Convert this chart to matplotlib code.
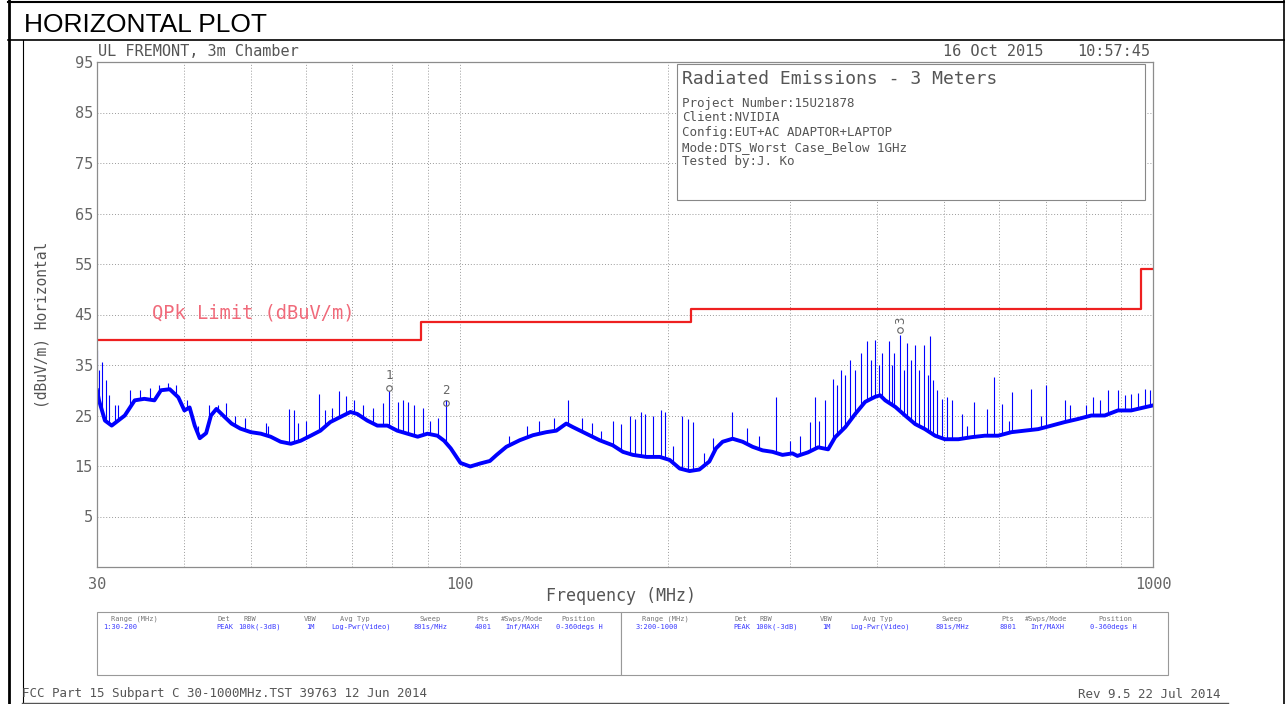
import numpy as np
import matplotlib
matplotlib.use('Agg')
import matplotlib.pyplot as plt  # noqa
import matplotlib.ticker
from matplotlib.lines import Line2D
from matplotlib.patches import Rectangle

W, H = 1285, 704

MONO = 'DejaVu Sans Mono'
COLOR_TXT = '#555555'
COLOR_GRID = '#9a9a9a'
COLOR_TRACE = '#0000ff'
COLOR_LIMIT = '#ee2020'

# measured trace (centre of the noise band), MHz / dBuV/m
trace_freq = [30.0, 30.2, 30.8, 31.5, 32.9, 34.0, 35.1, 36.3, 37.1, 38.2, 39.3,
              40.1, 40.8, 41.5, 42.2, 43.1, 43.8, 44.6, 45.6, 46.9, 48.3, 50.0,
              51.7, 53.4, 55.2, 57.1, 59.0, 61.0, 63.0, 65.1, 67.3, 69.6, 71.2,
              73.6, 76.1, 78.7, 81.3, 84.1, 87.0, 89.9, 92.9, 95.0, 97.1, 99.3,
              100.3, 103.6, 107.1, 110.6, 113.1, 116.8, 122.1, 127.6, 133.4,
              137.9, 142.5, 145.7, 152.3, 159.2, 166.3, 172.0, 177.8, 186.0,
              194.4, 200.9, 207.7, 214.6, 221.7, 229.2, 234.3, 239.5, 247.6,
              256.0, 264.6, 273.5, 282.7, 292.2, 302.0, 307.0, 318.0, 329.0,
              340.0, 348.0, 360.0, 372.0, 384.5, 397.4, 404.0, 411.0, 425.0,
              439.0, 454.0, 469.0, 485.0, 501.0, 524.0, 547.0, 572.0, 598.0,
              625.0, 653.0, 683.0, 714.0, 746.0, 779.0, 815.0, 852.0, 890.0,
              930.0, 978.0, 1000.0]
trace_db = [30.0, 28.0, 24.0, 23.0, 25.0, 28.0, 28.3, 28.0, 30.0, 30.2, 28.6,
            26.0, 26.6, 23.0, 20.5, 21.5, 25.0, 26.3, 25.0, 23.4, 22.4, 21.7,
            21.4, 20.8, 19.8, 19.4, 20.0, 21.0, 22.0, 23.7, 24.7, 25.7, 25.3,
            24.0, 23.0, 23.0, 22.0, 21.4, 20.8, 21.4, 21.0, 20.0, 18.5, 16.5,
            15.6, 14.9, 15.5, 16.0, 17.2, 18.8, 20.1, 21.1, 21.7,
            22.0, 23.4, 22.7, 21.4, 20.1, 19.1, 17.8, 17.2, 16.8,
            16.8, 16.2, 14.5, 14.0, 14.3, 15.9, 18.5, 19.8, 20.4,
            19.8, 18.8, 18.1, 17.8, 17.2, 17.5, 17.0, 17.7, 18.7,
            18.3, 20.7, 22.7, 25.3, 27.7, 28.7, 29.0, 28.0, 26.7,
            25.0, 23.3, 22.3, 21.0, 20.3, 20.3, 20.7, 21.0, 21.0,
            21.7, 22.0, 22.3, 23.0, 23.7, 24.3, 25.0, 25.0, 26.0,
            26.0, 26.7, 27.0]

# narrow emissions sticking out of the band
spike_freq = [30.0, 30.2, 30.5, 30.9, 31.2, 31.8, 32.2, 33.5, 34.6, 35.8,
              36.8, 38.0, 39.0, 40.5, 42.0, 43.5, 44.9, 46.0, 47.5, 49.0,
              52.5, 53.0, 56.7, 57.7, 58.5, 60.0, 62.6, 64.0, 65.5, 67.0,
              68.6, 70.5, 72.5, 75.0, 77.5, 79.1, 81.4, 82.8, 84.2, 86.0,
              88.5, 90.5, 93.0, 95.5, 118.0, 125.0, 130.0, 137.0, 143.3,
              150.0, 155.0, 160.0, 166.3, 171.0, 176.1, 179.1, 182.6, 185.1,
              190.0, 195.1, 197.7, 203.0, 209.2, 213.3, 216.9, 225.0, 232.0,
              246.8, 260.0, 270.0, 286.1, 300.0, 310.0, 320.6, 326.0, 330.0,
              337.0, 345.0, 350.0, 354.3, 360.0, 366.2, 372.0, 378.6, 387.4,
              392.0, 397.8, 402.0, 407.2, 416.8, 420.0, 423.7, 432.2, 437.0,
              442.4, 447.0, 454.3, 460.0, 468.0, 473.0, 477.4, 482.0, 488.6,
              496.7, 505.0, 513.5, 530.8, 540.0, 552.4, 576.7, 590.3, 606.1,
              620.0, 626.5, 666.9, 690.0, 701.0, 746.6, 760.0, 800.0, 819.2,
              840.0, 861.0, 889.7, 910.0, 929.2, 950.0, 972.5, 990.0]
spike_db = [38.0, 34.0, 35.5, 32.0, 29.0, 27.0, 27.0, 30.0, 30.0, 30.5,
            31.0, 31.5, 31.0, 28.0, 23.0, 27.0, 27.0, 27.5, 25.0, 24.5,
            23.5, 23.0, 26.3, 26.0, 23.5, 24.0, 29.2, 26.0, 26.5, 29.9,
            28.9, 28.0, 27.0, 26.5, 27.5, 29.9, 27.6, 28.0, 27.6, 27.0,
            26.5, 24.0, 24.5, 28.0, 21.0, 23.0, 24.0, 24.5, 28.0,
            24.5, 23.5, 22.0, 24.0, 23.4, 25.0, 24.3, 25.6, 25.3,
            25.0, 26.0, 25.6, 19.0, 25.0, 24.3, 23.7, 17.5, 20.5,
            25.6, 22.5, 21.0, 28.6, 20.0, 21.0, 23.7, 28.6, 24.0,
            28.0, 32.3, 31.0, 34.0, 33.0, 36.0, 34.0, 37.3, 39.7,
            36.0, 40.0, 35.0, 37.3, 39.7, 35.0, 37.3, 41.0, 34.0,
            39.3, 36.0, 39.0, 34.0, 39.0, 33.0, 40.7, 32.0, 30.0,
            28.3, 28.7, 28.0, 25.3, 23.0, 27.7, 26.3, 32.7, 27.3,
            24.0, 29.7, 30.3, 25.0, 31.0, 28.0, 27.0, 27.0, 28.7,
            28.0, 30.0, 30.0, 29.0, 29.3, 29.5, 30.3, 30.0]

# QP limit steps
limit_freq = [30, 88, 88, 216, 216, 960, 960, 1000]
limit_db = [40, 40, 43.5, 43.5, 46, 46, 54, 54]

# marker table
marker_label = ['1', '2', '3']
marker_freq = [79.1, 95.5, 432.2]
marker_db = [30.4, 27.5, 42.0]

info_title = 'Radiated Emissions - 3 Meters'
info_lines = ['Project Number:15U21878', 'Client:NVIDIA',
              'Config:EUT+AC ADAPTOR+LAPTOP',
              'Mode:DTS_Worst Case_Below 1GHz', 'Tested by:J. Ko']

table_head = ['Range (MHz)', 'Det', 'RBW', 'VBW', 'Avg Typ', 'Sweep', 'Pts',
              '#Swps/Mode', 'Position']
table_row1 = ['1:30-200', 'PEAK', '100k(-3dB)', '1M', 'Log-Pwr(Video)',
              '801s/MHz', '4001', 'Inf/MAXH', '0-360degs H']
table_row2 = ['3:200-1000', 'PEAK', '100k(-3dB)', '1M', 'Log-Pwr(Video)',
              '801s/MHz', '8001', 'Inf/MAXH', '0-360degs H']


def fx(x):
    return x / W


def fy(y):
    return 1 - y / H


def hline(fig, x0, x1, y, **kw):
    fig.add_artist(Line2D([fx(x0), fx(x1)], [fy(y), fy(y)],
                          transform=fig.transFigure, **kw))


def vline(fig, x, y0, y1, **kw):
    fig.add_artist(Line2D([fx(x), fx(x)], [fy(y0), fy(y1)],
                          transform=fig.transFigure, **kw))


def box(fig, x0, y0, x1, y1, ec='#888888', lw=0.8):
    fig.add_artist(Rectangle((fx(x0), fy(y1)), fx(x1) - fx(x0), fy(y0) - fy(y1),
                             transform=fig.transFigure, facecolor='white',
                             edgecolor=ec, linewidth=lw, zorder=3))


fig = plt.figure(figsize=(W / 100, H / 100), dpi=100)
ax = fig.add_axes([fx(97), fy(567), fx(1153) - fx(97), fy(62) - fy(567)])

# trace
ax.plot(trace_freq, trace_db, color=COLOR_TRACE, lw=2.8, solid_joinstyle='round')
spike_base = np.interp(np.log10(spike_freq), np.log10(trace_freq), trace_db)
ax.vlines(spike_freq, spike_base, spike_db, color=COLOR_TRACE, lw=0.8)

# limit
ax.plot(limit_freq, limit_db, color=COLOR_LIMIT, lw=1.6)
ax.text(36, 45.3, 'QPk Limit (dBuV/m)', family=MONO, fontsize=13.5,
        color='#f06a7a', va='center', ha='left')

# markers
for lab, f, d in zip(marker_label, marker_freq, marker_db):
    ax.plot(f, d, marker='o', ms=4, mfc='none', mec='#666666', mew=0.8)
    ax.text(f, d + 1.2, lab, family=MONO, fontsize=9, color='#666666',
            ha='center', va='bottom', rotation=90 if lab == '3' else 0)

# axes cosmetics
ax.set_xscale('log')
ax.set_xlim(30, 1000)
ax.set_ylim(-5, 95)
ax.xaxis.set_major_locator(matplotlib.ticker.FixedLocator([30, 100, 1000]))
ax.xaxis.set_major_formatter(matplotlib.ticker.FixedFormatter(['30', '100', '1000']))
ax.xaxis.set_minor_locator(matplotlib.ticker.FixedLocator(
    [40, 50, 60, 70, 80, 90, 200, 300, 400, 500, 600, 700, 800, 900]))
ax.xaxis.set_minor_formatter(matplotlib.ticker.NullFormatter())
ax.yaxis.set_major_locator(matplotlib.ticker.FixedLocator(list(range(5, 96, 10))))
ax.grid(True, which='both', color=COLOR_GRID, lw=0.7, ls=(0, (1, 2)))
ax.tick_params(which='both', length=0, labelcolor='#666666', labelsize=11)
ax.tick_params(axis='x', pad=7)
ax.tick_params(axis='y', pad=3)
for lab in ax.get_xticklabels() + ax.get_yticklabels():
    lab.set_family(MONO)
for sp in ax.spines.values():
    sp.set_color('#8c8c8c')
    sp.set_linewidth(0.9)

# texts around the plot
fig.text(fx(98), fy(52), 'UL FREMONT, 3m Chamber', family=MONO, fontsize=11,
         color=COLOR_TXT, va='center')
fig.text(fx(943), fy(52), '16 Oct 2015', family=MONO, fontsize=11,
         color=COLOR_TXT, va='center')
fig.text(fx(1150), fy(52), '10:57:45', family=MONO, fontsize=11,
         color=COLOR_TXT, va='center', ha='right')
fig.text(fx(42), fy(325), '(dBuV/m) Horizontal', family=MONO, fontsize=10.5,
         color=COLOR_TXT, va='center', ha='center', rotation=90)
fig.text(fx(621), fy(596), 'Frequency (MHz)', family=MONO, fontsize=12,
         color=COLOR_TXT, va='center', ha='center')

# info box
box(fig, 677, 64, 1145, 200)
fig.text(fx(682), fy(79), info_title, family=MONO, fontsize=13,
         color=COLOR_TXT, va='center', zorder=4)
for i, line in enumerate(info_lines):
    fig.text(fx(682), fy(103 + i * 14.7), line, family=MONO, fontsize=9,
             color=COLOR_TXT, va='center', zorder=4)

# setup table
box(fig, 97, 612, 621, 675, ec='#999999')
box(fig, 621, 612, 1168, 675, ec='#999999')
head_x1 = [134, 224, 250, 310, 355, 430, 483, 522, 578]
val_x1 = [103, 216, 238, 306, 331, 414, 475, 505, 556]
head_x2 = [665, 741, 766, 826, 878, 952, 1008, 1046, 1115]
val_x2 = [636, 733, 755, 822, 850, 936, 1000, 1030, 1090]
for hx, vxs, row in ((head_x1, val_x1, table_row1), (head_x2, val_x2, table_row2)):
    for cx, vx, h, v in zip(hx, vxs, table_head, row):
        fig.text(fx(cx), fy(619), h, family=MONO, fontsize=5, color='#777777',
                 ha='center', va='center', zorder=4)
        fig.text(fx(vx), fy(627), v, family=MONO, fontsize=5, color='#3a3aff',
                 ha='left', va='center', zorder=4)

fig.text(fx(22), fy(694), 'FCC Part 15 Subpart C 30-1000MHz.TST 39763 12 Jun 2014',
         family=MONO, fontsize=9, color=COLOR_TXT, va='center')
fig.text(fx(1220), fy(694), 'Rev 9.5 22 Jul 2014', family=MONO, fontsize=9,
         color=COLOR_TXT, va='center', ha='right')

# document frame around the picture
hline(fig, 8, 1285, 1.5, color='black', lw=1.5)
hline(fig, 8, 1285, 40, color='black', lw=1.2)
vline(fig, 8.5, 0, 704, color='black', lw=2)
vline(fig, 1283.5, 0, 704, color='black', lw=1.2)
vline(fig, 22.5, 40, 704, color='black', lw=0.8)
hline(fig, 22, 1228, 702.5, color='#555555', lw=1)
fig.text(fx(24), fy(32), 'HORIZONTAL PLOT', family='Liberation Sans',
         fontsize=19, color='black', va='baseline')

fig.savefig('out.png', dpi=100)
